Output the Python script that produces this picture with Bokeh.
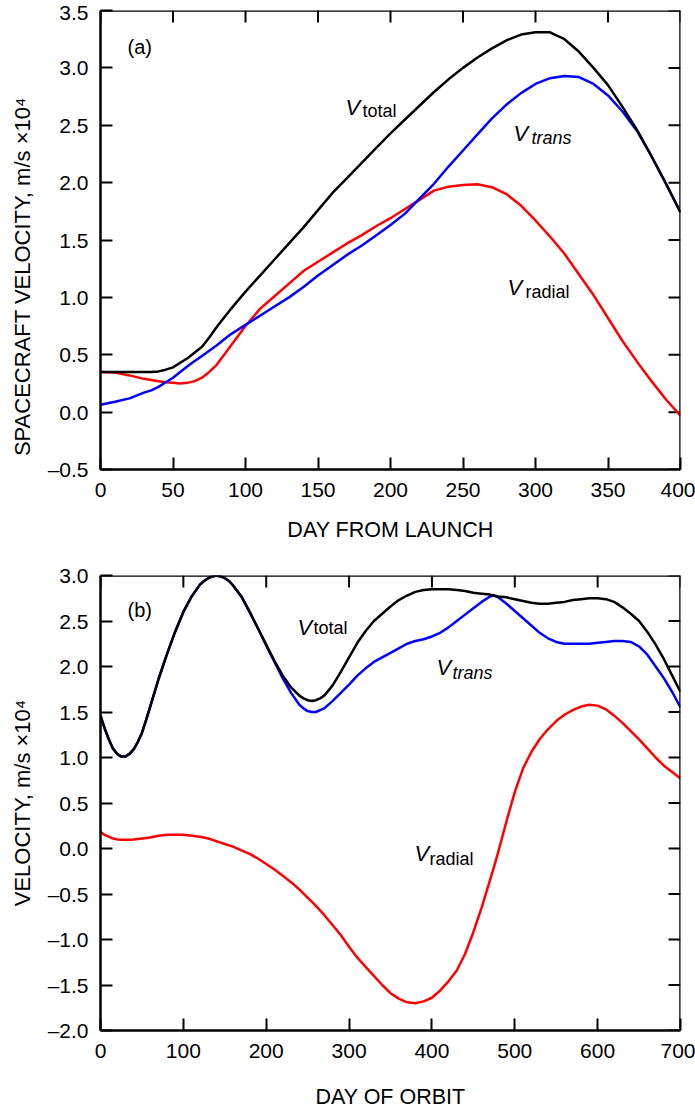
import math
from bokeh.plotting import figure
from bokeh.models import FixedTicker, Range1d, Label, Span
from bokeh.embed import file_html
from bokeh.resources import INLINE

# ---------------- Panel (a) data ----------------
day_a = [0, 10, 20, 30, 35, 40, 45, 50, 55, 60, 65, 70, 75, 80,
         90, 100, 110, 120, 130, 140, 150, 160, 170, 180, 190, 200,
         210, 220, 230, 240, 250, 260, 270, 280, 290, 300, 310, 320,
         330, 340, 350, 360, 370, 380, 390, 400]
total_a = [0.35, 0.35, 0.35, 0.35, 0.35, 0.355, 0.37, 0.39, 0.43, 0.47, 0.52, 0.57, 0.65, 0.74,
           0.90, 1.05, 1.19, 1.33, 1.47, 1.61, 1.76, 1.91, 2.04, 2.17, 2.30, 2.43,
           2.55, 2.67, 2.79, 2.90, 3.00, 3.09, 3.17, 3.24, 3.29, 3.31, 3.31, 3.25,
           3.14, 3.00, 2.85, 2.66, 2.46, 2.23, 1.99, 1.74]
trans_a = [0.065, 0.09, 0.12, 0.17, 0.19, 0.22, 0.26, 0.30, 0.35, 0.40, 0.445, 0.49, 0.535, 0.58,
           0.68, 0.76, 0.84, 0.92, 1.00, 1.09, 1.19, 1.28, 1.37, 1.45, 1.54, 1.63,
           1.73, 1.86, 1.99, 2.14, 2.28, 2.42, 2.56, 2.68, 2.78, 2.86, 2.91, 2.93,
           2.92, 2.86, 2.76, 2.62, 2.45, 2.23, 1.99, 1.74]
radial_a = [0.35, 0.345, 0.32, 0.29, 0.28, 0.27, 0.26, 0.255, 0.25, 0.255, 0.27, 0.30, 0.35, 0.41,
            0.58, 0.75, 0.90, 1.01, 1.12, 1.23, 1.31, 1.39, 1.47, 1.54, 1.62, 1.69,
            1.77, 1.85, 1.93, 1.965, 1.98, 1.985, 1.96, 1.90, 1.80, 1.67, 1.53, 1.38,
            1.20, 1.02, 0.82, 0.62, 0.44, 0.27, 0.11, -0.03]

xticks_a = [0, 50, 100, 150, 200, 250, 300, 350, 400]
yticks_a = [-0.5, 0.0, 0.5, 1.0, 1.5, 2.0, 2.5, 3.0, 3.5]
ylabels_a = ["\u20130.5", "0.0", "0.5", "1.0", "1.5", "2.0", "2.5", "3.0", "3.5"]

# ---------------- Panel (b) data ----------------
day_b = [0, 5, 10, 15, 20, 25, 30, 35, 40, 45, 50, 55, 60,
         70, 80, 90, 100, 110, 120,
         125, 130, 135, 140, 145, 150, 155, 160,
         170, 180, 190, 200, 210, 220, 230, 240,
         245, 250, 255, 260, 265, 270,
         280, 290, 300, 310, 320, 330, 340, 350, 360, 370,
         380, 390, 400, 410, 420, 430, 440, 450, 460, 470,
         475,
         480, 490, 500, 510, 520, 530, 540, 550, 560, 570, 580,
         590, 600, 610, 620, 630, 640, 650, 660, 670, 680, 690, 700]
total_b = [1.46, 1.32, 1.20, 1.10, 1.04, 1.01, 1.01, 1.04, 1.09, 1.17, 1.27, 1.41, 1.56,
           1.86, 2.13, 2.38, 2.60, 2.77, 2.90,
           2.94, 2.97, 2.99, 3.00, 2.99, 2.97, 2.94, 2.89,
           2.77, 2.60, 2.42, 2.24, 2.06, 1.90, 1.77, 1.68,
           1.65, 1.63, 1.62, 1.63, 1.65, 1.68,
           1.79, 1.94, 2.10, 2.26, 2.39, 2.50, 2.58, 2.66, 2.73, 2.78,
           2.82, 2.84, 2.85, 2.85, 2.85, 2.84, 2.83, 2.81, 2.80, 2.79,
           2.78,
           2.77, 2.76, 2.74, 2.72, 2.70, 2.69, 2.69, 2.70, 2.71, 2.73, 2.74,
           2.75, 2.75, 2.74, 2.71, 2.65, 2.58, 2.50, 2.38, 2.24, 2.08, 1.90, 1.72]
trans_b = [1.46, 1.32, 1.20, 1.10, 1.04, 1.01, 1.01, 1.04, 1.09, 1.17, 1.27, 1.41, 1.56,
           1.86, 2.13, 2.38, 2.60, 2.77, 2.90,
           2.94, 2.97, 2.99, 3.00, 2.99, 2.97, 2.94, 2.89,
           2.77, 2.60, 2.42, 2.23, 2.05, 1.87, 1.71, 1.58,
           1.54, 1.51, 1.50, 1.50, 1.52, 1.54,
           1.62, 1.71, 1.80, 1.90, 1.98, 2.05, 2.10, 2.15, 2.20, 2.25,
           2.28, 2.30, 2.33, 2.37, 2.43, 2.50, 2.57, 2.64, 2.71, 2.77,
           2.78,
           2.76, 2.69, 2.61, 2.53, 2.45, 2.37, 2.31, 2.27, 2.25, 2.25, 2.25,
           2.25, 2.26, 2.27, 2.28, 2.28, 2.27, 2.22, 2.13, 2.00, 1.87, 1.72, 1.55]
radial_b = [0.18, 0.15, 0.13, 0.11, 0.10, 0.097, 0.095, 0.097, 0.10, 0.105, 0.11, 0.115, 0.12,
            0.14, 0.15, 0.15, 0.15, 0.14, 0.13,
            0.12, 0.11, 0.095, 0.08, 0.065, 0.05, 0.035, 0.02,
            -0.02, -0.06, -0.11, -0.17, -0.23, -0.30, -0.37, -0.45,
            -0.495, -0.54, -0.585, -0.63, -0.68, -0.73,
            -0.84, -0.95, -1.08, -1.20, -1.30, -1.40, -1.50, -1.59, -1.65, -1.69,
            -1.70, -1.68, -1.64, -1.56, -1.46, -1.34, -1.16, -0.92, -0.65, -0.35,
            -0.20,
            -0.04, 0.30, 0.62, 0.88, 1.06, 1.20, 1.31, 1.40, 1.47, 1.52, 1.56,
            1.58, 1.57, 1.53, 1.46, 1.38, 1.29, 1.20, 1.10, 1.00, 0.91, 0.84, 0.77]

xticks_b = [0, 100, 200, 300, 400, 500, 600, 700]
yticks_b = [-2.0, -1.5, -1.0, -0.5, 0.0, 0.5, 1.0, 1.5, 2.0, 2.5, 3.0]
ylabels_b = ["\u20132.0", "\u20131.5", "\u20131.0", "\u20130.5", "0.0", "0.5",
             "1.0", "1.5", "2.0", "2.5", "3.0"]

FONT = "Liberation Sans"
BLUE = "blue"
RED = "red"
BLACK = "black"
FRAME_W = 580
TICK_PX = 12
TICK_W = 2
PAD = "\u00a0" * 12


def style_axis(ax, ticks, labels=None):
    ax.ticker = FixedTicker(ticks=ticks)
    ax.major_tick_in = TICK_PX
    ax.major_tick_out = 0
    ax.minor_tick_in = 0
    ax.minor_tick_out = 0
    ax.major_tick_line_color = BLACK
    ax.major_tick_line_width = TICK_W
    ax.axis_line_color = BLACK
    ax.axis_line_width = 2.5
    ax.major_label_text_font = FONT
    ax.major_label_text_font_size = "21px"
    ax.major_label_text_color = BLACK
    ax.axis_label_text_font = FONT
    ax.axis_label_text_font_style = "normal"
    ax.axis_label_text_color = BLACK
    if labels is not None:
        ax.major_label_overrides = {t: s for t, s in zip(ticks, labels)}


def add_text(p, x, y, text, size, style="normal"):
    p.add_layout(Label(x=x, y=y, text=text, text_font=FONT, text_font_size=size,
                       text_font_style=style, text_color=BLACK,
                       text_baseline="alphabetic", text_align="left"))


def make_fig(xr, yr, xt, yt, yl, xlabel, ylabel, fh, top, bottom, title_gap):
    p = figure(frame_width=FRAME_W, frame_height=fh,
               x_range=Range1d(*xr), y_range=Range1d(*yr),
               output_backend="svg", toolbar_location=None,
               min_border_left=100, min_border_right=15,
               min_border_top=top, min_border_bottom=bottom,
               background_fill_color=None, border_fill_color=None)
    p.xgrid.grid_line_color = None
    p.ygrid.grid_line_color = None
    # frame: axis lines on the left/bottom, spans on the right/top
    p.outline_line_color = None
    p.add_layout(Span(location=xr[1], dimension="height", line_color=BLACK, line_width=2.5))
    p.add_layout(Span(location=yr[1], dimension="width", line_color=BLACK, line_width=2.5))
    style_axis(p.xaxis[0], xt)
    style_axis(p.yaxis[0], yt, yl)
    p.xaxis.axis_label = xlabel
    p.yaxis.axis_label = ylabel
    p.xaxis.axis_label_text_font_size = "21.5px"
    p.yaxis.axis_label_text_font_size = "22px"
    p.xaxis.major_label_standoff = 13
    p.xaxis.axis_label_standoff = title_gap
    p.yaxis.major_label_standoff = 12
    p.yaxis.axis_label_standoff = 10
    return p


def add_edge_ticks(p, xr, yr, xt, yt, fh):
    # inward tick marks on the right and top edges, taken from the tick arrays
    dx = (xr[1] - xr[0]) * TICK_PX / FRAME_W
    dy = (yr[1] - yr[0]) * TICK_PX / fh
    ny, nx = len(yt), len(xt)
    kw = dict(line_color=BLACK, line_width=TICK_W)
    p.segment([xr[1]] * ny, yt, [xr[1] - dx] * ny, yt, **kw)
    p.segment(xt, [yr[1]] * nx, xt, [yr[1] - dy] * nx, **kw)


# ---------------- Figure (a) ----------------
pa = make_fig((0, 400), (-0.5, 3.5), xticks_a, yticks_a, ylabels_a,
              "DAY FROM LAUNCH", "SPACECRAFT VELOCITY, m/s \u00d710\u2074" + PAD,
              459, 10, 86, 18)
add_edge_ticks(pa, (0, 400), (-0.5, 3.5), xticks_a, yticks_a, 459)
pa.line(day_a, radial_a, line_color=RED, line_width=2.5)
pa.line(day_a, trans_a, line_color=BLUE, line_width=2.5)
pa.line(day_a, total_a, line_color=BLACK, line_width=2.5)
add_text(pa, 18.6, 3.186, "(a)", "20px")
add_text(pa, 169.0, 2.657, "V", "22px", "italic")
add_text(pa, 180.7, 2.62, "total", "18px")
add_text(pa, 284.8, 2.43, "V", "22px", "italic")
add_text(pa, 297.2, 2.385, "trans", "18px", "italic")
add_text(pa, 280.7, 1.086, "V", "22px", "italic")
add_text(pa, 293.1, 1.043, "radial", "18px")

# ---------------- Figure (b) ----------------
pb = make_fig((0, 700), (-2.0, 3.0), xticks_b, yticks_b, ylabels_b,
              "DAY OF ORBIT", "VELOCITY, m/s \u00d710\u2074",
              455, 20, 77, 24)
add_edge_ticks(pb, (0, 700), (-2.0, 3.0), xticks_b, yticks_b, 455)
pb.line(day_b, radial_b, line_color=RED, line_width=2.5)
pb.line(day_b, trans_b, line_color=BLUE, line_width=2.5)
pb.line(day_b, total_b, line_color=BLACK, line_width=2.5)
add_text(pb, 32.6, 2.626, "(b)", "20px")
add_text(pb, 237.8, 2.43, "V", "22px", "italic")
add_text(pb, 257.0, 2.418, "total", "18px")
add_text(pb, 405.5, 1.99, "V", "22px", "italic")
add_text(pb, 424.8, 1.934, "trans", "18px", "italic")
add_text(pb, 379.0, -0.055, "V", "22px", "italic")
add_text(pb, 397.0, -0.11, "radial", "18px")

open("out.html", "w").write(file_html([pa, pb], INLINE))
